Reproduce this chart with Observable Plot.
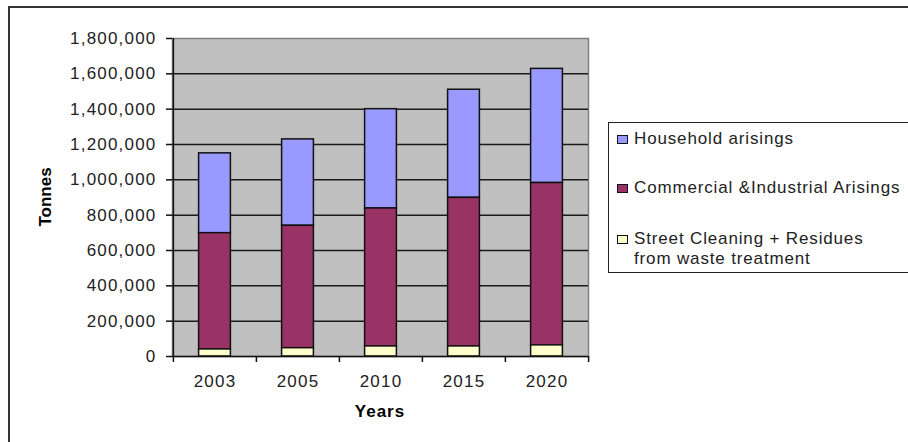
<!DOCTYPE html>
<html>
<head>
<meta charset="utf-8">
<script src="https://cdn.jsdelivr.net/npm/d3@7"></script>
<script src="https://cdn.jsdelivr.net/npm/@observablehq/plot@0.6"></script>
<style>
  html, body { margin: 0; padding: 0; background: #fff; overflow: hidden; }
  #wrap { position: relative; width: 908px; height: 442px; overflow: hidden; font-family: "Liberation Sans", Arial, sans-serif; color: #222; }
  #outer { position: absolute; left: 8px; top: 6px; width: 960px; height: 500px; border: 2px solid #333; box-sizing: border-box; }
  #chart { position: absolute; left: 0; top: 0; }
  .lab { position: absolute; font-size: 17px; letter-spacing: 0.85px; white-space: nowrap; line-height: 20px; }
  .ttl { position: absolute; font-weight: bold; font-size: 17px; white-space: nowrap; line-height: 20px; color: #000; }
  #legend { position: absolute; left: 608px; top: 122px; width: 340px; height: 151px; border: 1.5px solid #222; box-sizing: border-box; }
  .sw { position: absolute; width: 11px; height: 9px; border: 1.5px solid #111; box-sizing: border-box; }
</style>
</head>
<body>
<div id="wrap">
  <div id="outer"></div>
  <div id="chart"></div>
  <div id="legend"></div>
  <div class="ttl" id="ylab" style="left:16px; top:187px; width:60px; text-align:center; transform: rotate(-90deg);">Tonnes</div>
  <div class="ttl" style="left:330px; top:402px; width:100px; text-align:center; letter-spacing:1px;">Years</div>
</div>
<script>
const years = ["2003", "2005", "2010", "2015", "2020"];
const household = [452000, 489000, 562000, 612000, 646000];
const commercial = [658000, 693000, 781000, 841000, 919000];
const street = [40000, 47000, 57000, 57000, 63000];
const seriesNames = ["Household arisings", "Commercial &Industrial Arisings", "Street Cleaning + Residues from waste treatment"];
const seriesColors = ["#9999ff", "#993366", "#ffffcc"];
const yTicks = [0, 200000, 400000, 600000, 800000, 1000000, 1200000, 1400000, 1600000, 1800000];
const gridTicks = [200000, 400000, 600000, 800000, 1000000, 1200000, 1400000, 1600000];

const seriesValues = [household, commercial, street];
const table = [];
years.forEach((yr, i) => {
  seriesNames.forEach((name, j) => table.push({year: yr, series: name, value: seriesValues[j][i]}));
});
const stackOrder = [seriesNames[2], seriesNames[1], seriesNames[0]];

const W = 908, H = 442, mt = 38, mb = 86, ml = 172, mr = 320;
const step = (W - ml - mr) / years.length;
const inset = (step - 32) / 2;
const plotH = H - mt - mb;

const chart = Plot.plot({
  width: W, height: H,
  marginTop: mt, marginBottom: mb, marginLeft: ml, marginRight: mr,
  x: {domain: years, padding: 0},
  y: {domain: [0, 1800000]},
  color: {domain: seriesNames, range: seriesColors},
  style: {fontFamily: "'Liberation Sans', Arial, sans-serif", fontSize: "17px", color: "#222", background: "transparent", letterSpacing: "1.2px"},
  marks: [
    Plot.frame({fill: "#c0c0c0", stroke: "#808080", strokeWidth: 1.5}),
    Plot.ruleY(gridTicks, {stroke: "#1a1a1a", strokeWidth: 1.5}),
    Plot.barY(table, {x: "year", y: "value", fill: "series", order: stackOrder, insetLeft: inset, insetRight: inset, stroke: "#111", strokeWidth: 1.5}),
    Plot.ruleY([0], {stroke: "#111", strokeWidth: 1.5}),
    Plot.ruleX([years[0]], {x: d => d, dx: -step / 2, stroke: "#111", strokeWidth: 1.5}),
    Plot.ruleX(years, {x: d => d, dx: -step / 2, insetTop: plotH, insetBottom: -6, stroke: "#111", strokeWidth: 1.5}),
    Plot.ruleX([years[years.length - 1]], {x: d => d, dx: step / 2, insetTop: plotH, insetBottom: -6, stroke: "#111", strokeWidth: 1.5}),
    Plot.axisY({ticks: yTicks, tickFormat: d3.format(","), tickSize: 6, tickPadding: 10, label: null, stroke: "#111", strokeWidth: 1.5}),
    Plot.axisX({tickSize: 0, tickPadding: 18, label: null})
  ]
});
document.getElementById("chart").appendChild(chart);

// legend
const legend = document.getElementById("legend");
const rows = [
  {name: seriesNames[0], color: seriesColors[0], lines: ["Household arisings"], cy: 16},
  {name: seriesNames[1], color: seriesColors[1], lines: ["Commercial &Industrial Arisings"], cy: 65},
  {name: seriesNames[2], color: seriesColors[2], lines: ["Street Cleaning + Residues", "from waste treatment"], cy: 116}
];
rows.forEach(r => {
  const sw = document.createElement("div");
  sw.className = "sw";
  sw.style.left = "8px";
  sw.style.top = (r.cy - 4.5) + "px";
  sw.style.background = r.color;
  legend.appendChild(sw);
  r.lines.forEach((ln, k) => {
    const t = document.createElement("div");
    t.className = "lab";
    t.style.left = "25px";
    t.style.top = (r.cy - 10 + k * 20) + "px";
    t.textContent = ln;
    legend.appendChild(t);
  });
});
</script>
</body>
</html>
